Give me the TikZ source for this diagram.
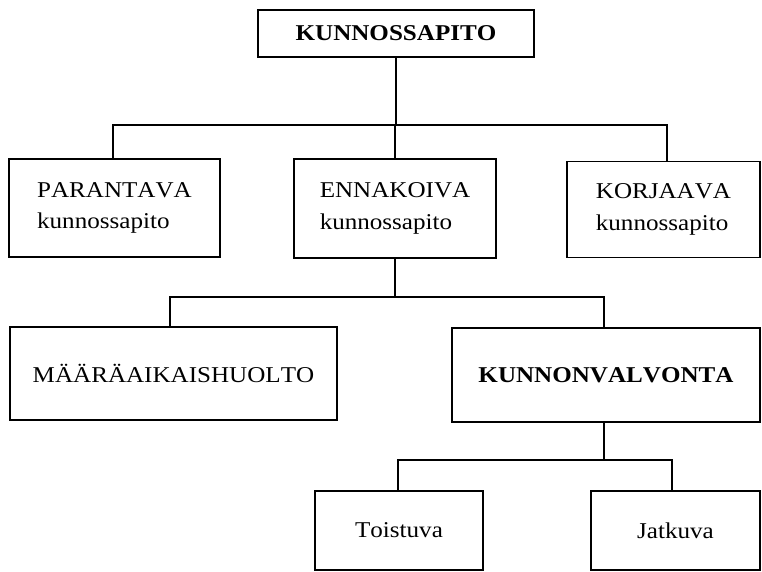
\documentclass[tikz,border=0pt]{standalone}
\usepackage{fontspec}
\setmainfont[FakeStretch=1.11,Kerning=Off]{Liberation Serif}
\begin{document}
\begin{tikzpicture}[x=1pt,y=-1pt,
  box/.style={draw, line width=1.6pt, inner sep=0pt, align=left,
    font=\fontsize{22.6}{31.5}\selectfont},
  conn/.style={line width=1.2pt}]
\useasboundingbox (0,0) rectangle (762,572);
% top
\node[box, minimum width=276, minimum height=47, font=\fontsize{22.6}{31.5}\selectfont\bfseries] (top) at (396,33.5) {KUNNOSSAPITO};
% row 2
\node[box, minimum width=211, minimum height=98] (par) at (114.5,208) {PARANTAVA\\kunnossapito};
\node[box, minimum width=202, minimum height=99] (enn) at (395,208.5) {ENNAKOIVA\\kunnossapito};
\node[box, minimum width=193, minimum height=96] (kor) at (663.5,209.5) {KORJAAVA\\kunnossapito};
% row 3
\node[box, minimum width=327, minimum height=93] (maa) at (173.5,373.5) {MÄÄRÄAIKAISHUOLTO};
\node[box, minimum width=308, minimum height=94, font=\fontsize{22.6}{31.5}\selectfont\bfseries] (kv) at (606,375) {KUNNONVALVONTA};
% row 4
\node[box, minimum width=168, minimum height=79] (toi) at (399,530.5) {Toistuva};
\node[box, minimum width=169, minimum height=79] (jat) at (675.5,530.5) {Jatkuva};
% buses
\coordinate (bus1) at (0,125);
\coordinate (bus2) at (0,297);
\coordinate (bus3) at (0,460);
\draw[conn] (top.south) -- (top.south |- bus1);
\draw[conn] ([xshift=-1.5pt]par.north) -- ([xshift=-1.5pt]par.north |- bus1) -- ([xshift=3.5pt]kor.north |- bus1) -- ([xshift=3.5pt]kor.north);
\draw[conn] (enn.north) -- (enn.north |- bus1);
\draw[conn] (enn.south) -- (enn.south |- bus2);
\draw[conn] ([xshift=-3.5pt]maa.north) -- ([xshift=-3.5pt]maa.north |- bus2) -- ([xshift=-2pt]kv.north |- bus2) -- ([xshift=-2pt]kv.north);
\draw[conn] ([xshift=-2pt]kv.south) -- ([xshift=-2pt]kv.south |- bus3);
\draw[conn] ([xshift=-1pt]toi.north) -- ([xshift=-1pt]toi.north |- bus3) -- ([xshift=-3.5pt]jat.north |- bus3) -- ([xshift=-3.5pt]jat.north);
\end{tikzpicture}
\end{document}
